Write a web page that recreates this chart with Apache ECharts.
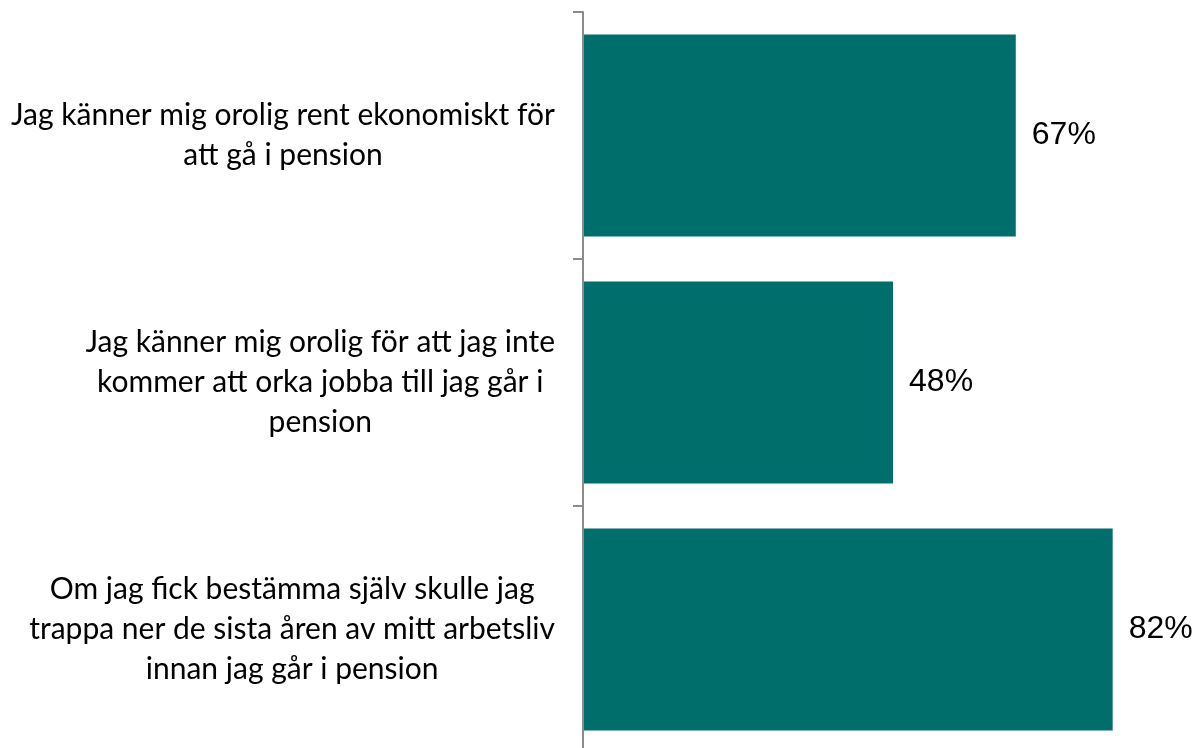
<!DOCTYPE html>
<html>
<head>
<meta charset="utf-8">
<title>Pension</title>
<script src="https://cdn.jsdelivr.net/npm/echarts@6/dist/echarts.min.js"></script>
<style>
    html, body { margin: 0; padding: 0; background: #fff; overflow: hidden; }
    /* the axis runs a few px past the bottom of the picture */
    #chart { width: 1196px; height: 753px; }
</style>
</head>
<body>
<div id="chart"></div>
<script>
// statements, top to bottom, split in lines like the original
var categories = [
    ['Jag känner mig orolig rent ekonomiskt för', 'att gå i pension'],
    ['Jag känner mig orolig för att jag inte', 'kommer att orka jobba till jag går i', 'pension'],
    ['Om jag fick bestämma själv skulle jag', 'trappa ner de sista åren av mitt arbetsliv', 'innan jag går i pension']
];
var values = [67, 48, 82];

var myChart = echarts.init(document.getElementById('chart'));
var option = {
    animation: false,
    grid: {
        left: 583,
        right: 0,
        top: 12,
        bottom: 0
    },
    xAxis: {
        type: 'value',
        min: 0,
        max: 94.9,   // the plot runs on past the right edge of the picture
        show: false
    },
    yAxis: {
        type: 'category',
        inverse: true,
        z: 10,
        data: categories.map(function (lines) { return lines.join('\n'); }),
        axisLine: { show: true, lineStyle: { color: '#8c8c8c', width: 2 } },
        axisTick: { show: true, length: 10, lineStyle: { color: '#8c8c8c', width: 2 } },
        axisLabel: {
            margin: 28,
            align: 'right',
            formatter: function (val) {
                return val.split('\n').map(function (l) { return '{c|' + l + '}'; }).join('\n');
            },
            rich: {
                c: {
                    align: 'center',
                    fontFamily: 'Lato',
                    fontSize: 30,
                    lineHeight: 40,
                    color: '#000'
                }
            }
        }
    },
    series: [
        {
            type: 'bar',
            data: values,
            barWidth: 202,
            itemStyle: { color: '#006f6c' },
            label: {
                show: true,
                position: 'right',
                distance: 16,
                formatter: '{c}%',
                fontFamily: 'Liberation Sans',
                fontSize: 32,
                color: '#000'
            }
        }
    ]
};
myChart.setOption(option, true);
</script>
</body>
</html>
